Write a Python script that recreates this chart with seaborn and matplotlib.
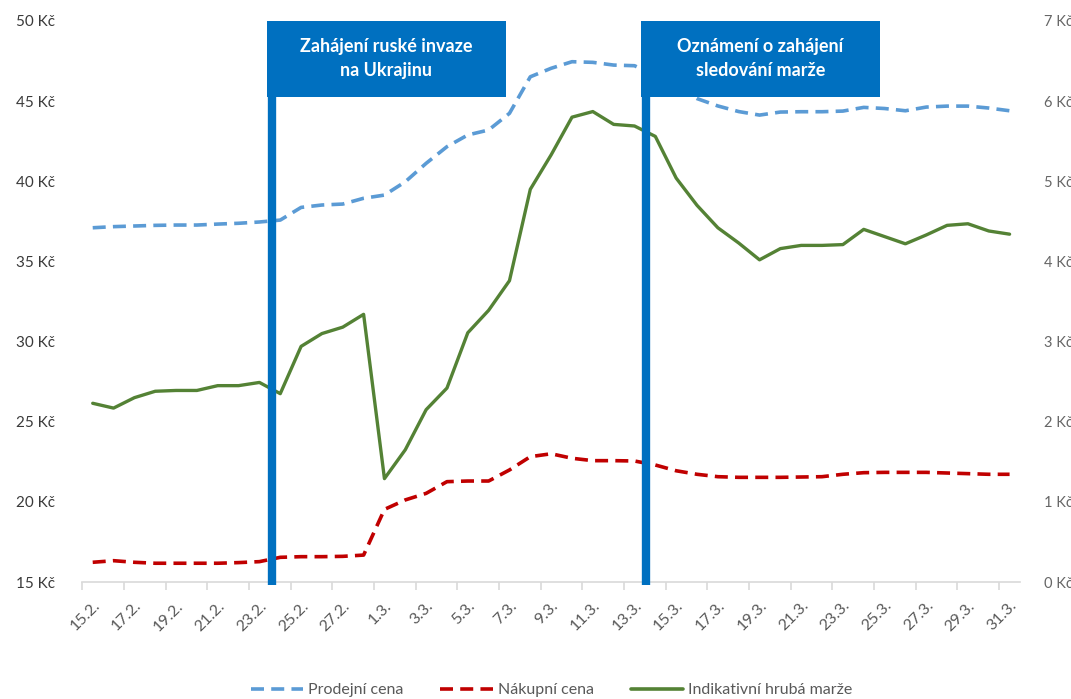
import matplotlib
matplotlib.use("Agg")
import matplotlib.pyplot as plt
import matplotlib.transforms as mtransforms
from matplotlib.patches import Rectangle
from matplotlib.lines import Line2D
import numpy as np
import pandas as pd
import seaborn as sns

# ---------------- data ----------------
dates = [f"{d}.2." for d in range(15, 29)] + [f"{d}.3." for d in range(1, 32)]

prodejni_cena = [37.10, 37.17, 37.21, 37.25, 37.27, 37.27, 37.33, 37.38, 37.46, 37.58,
                 38.37, 38.52, 38.58, 38.94, 39.14, 39.97, 41.12, 42.16, 42.89, 43.20, 44.24,
                 46.52, 47.05, 47.46, 47.42, 47.25, 47.21,
                 46.60, 45.90, 45.16, 44.70, 44.35, 44.13,
                 44.32, 44.34, 44.34, 44.38, 44.61, 44.54, 44.40, 44.63, 44.69, 44.69, 44.57, 44.40]

nakupni_cena = [16.23, 16.33, 16.23, 16.17, 16.17, 16.17, 16.17, 16.21, 16.27, 16.54,
                16.58, 16.58, 16.60, 16.68, 19.53, 20.12, 20.53, 21.26, 21.30, 21.30, 21.99, 22.82,
                23.00, 22.72, 22.57, 22.57, 22.55, 22.30, 21.94, 21.72, 21.57, 21.53, 21.53, 21.53,
                21.55, 21.57, 21.72, 21.82, 21.84, 21.84, 21.84, 21.80, 21.76, 21.72, 21.72]

hruba_marze = [2.23, 2.17, 2.30, 2.38, 2.39, 2.39, 2.45, 2.45, 2.49, 2.35,
               2.94, 3.10, 3.18, 3.34, 1.29, 1.65, 2.15, 2.42, 3.11, 3.39, 3.76, 4.90,
               5.33, 5.80, 5.87, 5.71, 5.69, 5.56, 5.04, 4.70, 4.42, 4.23, 4.02, 4.16,
               4.20, 4.20, 4.21, 4.40, 4.31, 4.22, 4.33, 4.45, 4.47, 4.38, 4.34]

series_names = ["Prodejní cena", "Nákupní cena", "Indikativní hrubá marže"]
left_ticks = [15, 20, 25, 30, 35, 40, 45, 50]
right_ticks = [0, 1, 2, 3, 4, 5, 6, 7]

events = ["Zahájení ruské invaze\nna Ukrajinu", "Oznámení o zahájení\nsledování marže"]
event_pos = [8.6, 26.55]          # position between day categories
event_box = [(8.36, 19.83), (26.31, 37.78)]

# ---------------- style ----------------
sns.set_theme(style="white")
plt.rcParams["font.family"] = ["Lato", "DejaVu Sans"]

BLUE = "#5B9BD5"
RED = "#C00000"
GREEN = "#548235"
BAR = "#0070C0"

df = pd.DataFrame({"idx": np.arange(len(dates)), "datum": dates,
                   "prodejni": prodejni_cena, "nakupni": nakupni_cena, "marze": hruba_marze})

fig = plt.figure(figsize=(10.71, 6.99), dpi=100)
ax = fig.add_axes([82.3 / 1071, 1 - 582 / 699, (1020 - 82.3) / 1071, 561 / 699])
ax2 = ax.twinx()

sns.lineplot(data=df, x="idx", y="prodejni", ax=ax, color=BLUE, lw=2.6,
             dashes=False, legend=False)
sns.lineplot(data=df, x="idx", y="nakupni", ax=ax, color=RED, lw=2.6,
             dashes=False, legend=False)
sns.lineplot(data=df, x="idx", y="marze", ax=ax2, color=GREEN, lw=2.4,
             legend=False)
for ln in ax.lines:
    ln.set_dashes((3.6, 2.0))
    ln.set_solid_capstyle("butt")

ax.set_xlim(-0.5, len(dates) - 0.5)
ax.set_ylim(15, 50)
ax2.set_ylim(0, 7)

ax.set_yticks(left_ticks)
ax.set_yticklabels([f"{v} Kč" for v in left_ticks], fontsize=11, color="#3A3A3A")
ax2.set_yticks(right_ticks)
ax2.set_yticklabels([f"{v} Kč" for v in right_ticks], fontsize=10.5, color="#666666")
ax.tick_params(axis="y", length=0, pad=20)
ax2.tick_params(axis="y", length=0, pad=17)

major = np.arange(0, len(dates), 2)
ax.set_xticks(major)
ax.set_xticklabels([dates[i] for i in major], rotation=45, ha="right",
                   rotation_mode="anchor", fontsize=11.5, color="#595959")
ax.set_xticks(major - 0.5, minor=True)
ax.tick_params(axis="x", which="major", length=0, pad=12)
ax.tick_params(axis="x", which="minor", length=6, color="#D9D9D9", width=1.2,
               direction="out", bottom=True)
ax.set_xlabel("")
ax.set_ylabel("")
ax2.set_ylabel("")

for a in (ax, ax2):
    for s in ["top", "left", "right", "bottom"]:
        a.spines[s].set_visible(False)
    a.grid(False)
ax.spines["bottom"].set_visible(True)
ax.spines["bottom"].set_color("#D9D9D9")
ax.spines["bottom"].set_linewidth(1.2)

# event markers
blend = mtransforms.blended_transform_factory(ax2.transData, ax2.transAxes)
box_bottom = (582 - 96.7) / 561
for label, pos, (x0, x1) in zip(events, event_pos, event_box):
    ax2.plot([pos, pos], [-0.006, box_bottom], transform=blend, color=BAR,
             lw=6, solid_capstyle="butt", clip_on=False, zorder=10)
    ax2.add_patch(Rectangle((x0, box_bottom), x1 - x0, 1 - box_bottom, transform=blend,
                            facecolor=BAR, edgecolor="none", clip_on=False, zorder=11))
    ax2.text((x0 + x1) / 2, (1 + box_bottom) / 2, label, transform=blend,
             ha="center", va="center", color="white", fontsize=13,
             fontweight="bold", linespacing=1.5, zorder=12)

handles = [Line2D([], [], color=BLUE, lw=2.6, dashes=(3.6, 2.0)),
           Line2D([], [], color=RED, lw=2.6, dashes=(3.6, 2.0)),
           Line2D([], [], color=GREEN, lw=2.6)]
leg = fig.legend(handles, series_names, loc="center", bbox_to_anchor=(0.515, 9 / 699),
                 ncol=3, frameon=False, fontsize=11.5, handlelength=3.3,
                 columnspacing=2.3, handletextpad=0.3)
for t in leg.get_texts():
    t.set_color("#595959")

fig.savefig("out.png", dpi=100)
